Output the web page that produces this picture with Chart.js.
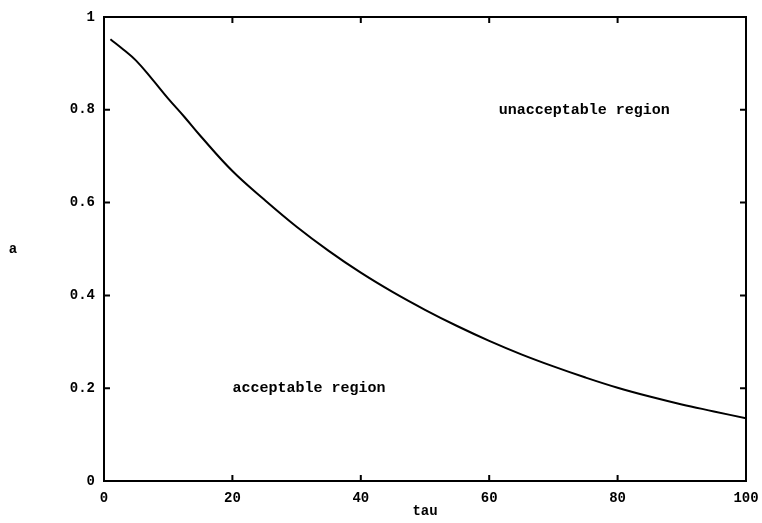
<!DOCTYPE html>
<html>
<head>
<meta charset="utf-8">
<script src="https://cdn.jsdelivr.net/npm/chart.js@4/dist/chart.umd.min.js"></script>
<style>
  html, body { margin: 0; padding: 0; background: #fff; }
  #wrap { width: 762px; height: 523px; }
</style>
</head>
<body>
<div id="wrap"><canvas id="limitChart"></canvas></div>
<script>
// tau / a boundary curve
const tauValues = [1, 3, 5, 7.5, 10, 12.5, 15, 20, 25, 30, 35, 40, 45, 50, 55, 60, 65, 70, 75, 80, 85, 90, 95, 100];
const aValues = [0.952, 0.930, 0.906, 0.866, 0.824, 0.785, 0.744, 0.668, 0.606, 0.548, 0.496, 0.449,
                 0.407, 0.369, 0.334, 0.302, 0.273, 0.247, 0.223, 0.201, 0.182, 0.165, 0.150, 0.135];

const xTicks = [0, 20, 40, 60, 80, 100];
const yTicks = [0, 0.2, 0.4, 0.6, 0.8, 1];

const regionLabels = [
    { text: "unacceptable region", tau: 61.5, a: 0.8 },
    { text: "acceptable region", tau: 20, a: 0.2 },
];

const FONT = "'Liberation Mono', 'Courier New', monospace";

// frame, inward ticks on all four sides, region notes and the "a" label
const framePlugin = {
    id: "frame",
    afterDraw(chart) {
        const { ctx, chartArea: area, scales } = chart;
        const x = scales.x, y = scales.y;
        ctx.save();
        ctx.strokeStyle = "#000";
        ctx.lineWidth = 2;
        ctx.strokeRect(area.left, area.top, area.right - area.left, area.bottom - area.top);

        ctx.beginPath();
        xTicks.forEach((v) => {
            const px = x.getPixelForValue(v);
            ctx.moveTo(px, area.bottom);
            ctx.lineTo(px, area.bottom - 6);
            ctx.moveTo(px, area.top);
            ctx.lineTo(px, area.top + 6);
        });
        yTicks.forEach((v) => {
            const py = y.getPixelForValue(v);
            ctx.moveTo(area.left, py);
            ctx.lineTo(area.left + 6, py);
            ctx.moveTo(area.right, py);
            ctx.lineTo(area.right - 6, py);
        });
        ctx.stroke();

        ctx.fillStyle = "#000";
        ctx.font = "bold 15px " + FONT;
        ctx.textBaseline = "middle";
        ctx.textAlign = "left";
        regionLabels.forEach((r) => {
            ctx.fillText(r.text, x.getPixelForValue(r.tau), y.getPixelForValue(r.a));
        });

        ctx.font = "bold 14px " + FONT;
        ctx.textAlign = "center";
        ctx.fillText("a", 13, (area.top + area.bottom) / 2);
        ctx.restore();
    },
};

new Chart(document.getElementById("limitChart"), {
    type: "line",
    data: {
        datasets: [
            {
                data: tauValues.map((t, i) => ({ x: t, y: aValues[i] })),
                borderColor: "#000",
                borderWidth: 2,
                pointRadius: 0,
                tension: 0.4,
                fill: false,
            },
        ],
    },
    options: {
        responsive: true,
        maintainAspectRatio: false,
        animation: false,
        layout: { padding: { left: 0, right: 16, top: 17, bottom: 0 } },
        plugins: { legend: { display: false }, tooltip: { enabled: false } },
        scales: {
            x: {
                type: "linear",
                min: 0,
                max: 100,
                afterFit(scale) {
                    scale.height = 42;
                    scale.paddingLeft = 0;
                    scale.paddingRight = 0;
                },
                afterBuildTicks(scale) { scale.ticks = xTicks.map((v) => ({ value: v })); },
                grid: { display: false, drawTicks: false },
                border: { display: false },
                ticks: {
                    padding: 9,
                    color: "#000",
                    maxRotation: 0,
                    callback: (v) => String(v),
                    font: { family: FONT, size: 14, weight: "bold" },
                },
                title: {
                    display: true,
                    text: "tau",
                    color: "#000",
                    padding: { top: 0, bottom: 3 },
                    font: { family: FONT, size: 14, weight: "bold" },
                },
            },
            y: {
                type: "linear",
                min: 0,
                max: 1,
                afterFit(scale) {
                    scale.width = 104;
                    scale.paddingTop = 0;
                    scale.paddingBottom = 0;
                },
                afterBuildTicks(scale) { scale.ticks = yTicks.map((v) => ({ value: v })); },
                grid: { display: false, drawTicks: false },
                border: { display: false },
                ticks: {
                    padding: 9,
                    color: "#000",
                    callback: (v) => String(v),
                    font: { family: FONT, size: 14, weight: "bold" },
                },
            },
        },
    },
    plugins: [framePlugin],
});
</script>
</body>
</html>
